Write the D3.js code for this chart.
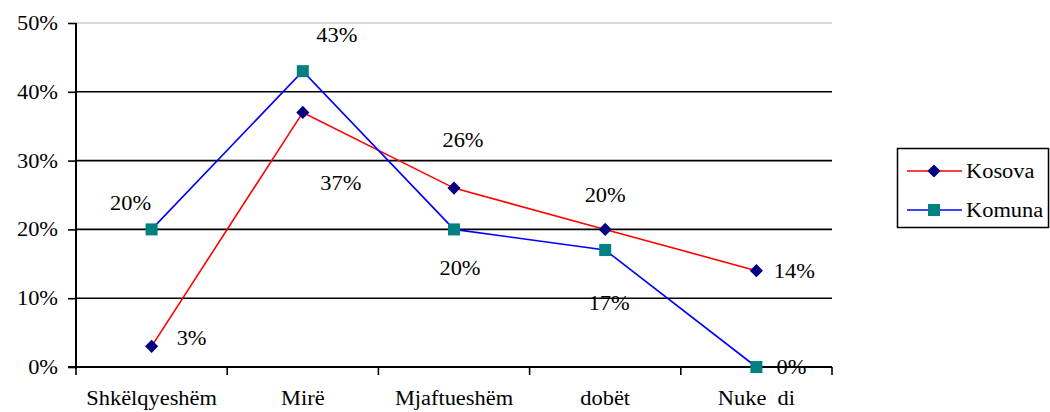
<!DOCTYPE html>
<html><head><meta charset="utf-8">
<script src="https://cdn.jsdelivr.net/npm/d3@7"></script>
</head><body style="margin:0">
<svg id="s" width="1050" height="412" font-family="Liberation Serif" font-size="20" style="display:block"></svg>
<script>
const categories = ["Shkëlqyeshëm", "Mirë", "Mjaftueshëm", "dobët", "Nuke  di"];
const kosova = [0.03, 0.37, 0.26, 0.20, 0.14];
const komuna = [0.20, 0.43, 0.20, 0.17, 0.00];
const yTicks = [0, 0.1, 0.2, 0.3, 0.4, 0.5];
const seriesNames = ["Kosova", "Komuna"];
// label offsets (px) relative to each point
const kosovaLabelOff = [[40,-8],[38,71],[9,-48],[0,-34],[38,0]];
const komunaLabelOff = [[-21,-26],[34,-36],[6,39],[4,53],[35,0]];

const FONT = "Liberation Serif";
const svg = d3.select("#s");
const x0 = 76, x1 = 832, yTop = 23, yBot = 367;
const x = d3.scaleBand().domain(categories).range([x0, x1]).padding(0);
const y = d3.scaleLinear().domain([0, 0.5]).range([yBot, yTop]);
const cx = c => x(c) + x.bandwidth() / 2;
const styleText = s => s.attr("font-family", FONT).attr("font-size", 20).attr("fill", "#000").classed("st", true);

// grid
svg.append("g").selectAll("line").data(yTicks.filter(t => t > 0)).join("line")
  .attr("x1", x0).attr("x2", x1).attr("y1", d => y(d)).attr("y2", d => y(d))
  .attr("stroke", d => d === 0.5 ? "#b0b0b0" : "#000").attr("stroke-width", d => d === 0.5 ? 1 : 1.6);

// y axis
const yAx = svg.append("g").attr("transform", `translate(${x0},0)`)
  .call(d3.axisLeft(y).tickValues(yTicks).tickFormat(d3.format(".0%")).tickSize(8).tickPadding(10));
yAx.attr("font-family", FONT).attr("font-size", 20);
yAx.select(".domain").attr("stroke", "#000").attr("stroke-width", 2).attr("d", `M0,${yTop}V${yBot + 2}`);
yAx.selectAll(".tick line").attr("stroke-width", 1.6);
yAx.selectAll("text").call(styleText);

// x axis
const xAx = svg.append("g").attr("transform", `translate(0,${yBot})`)
  .call(d3.axisBottom(x).tickSize(0).tickPadding(24));
xAx.attr("font-family", FONT).attr("font-size", 20);
xAx.select(".domain").remove();
xAx.selectAll("text").call(styleText).style("white-space", "pre");
svg.append("line").attr("x1", x0 - 8).attr("x2", x1).attr("y1", yBot).attr("y2", yBot)
  .attr("stroke", "#000").attr("stroke-width", 2);
const bounds = [x0].concat(categories.map(c => x(c) + x.bandwidth()));
svg.append("g").selectAll("line").data(bounds).join("line")
  .attr("x1", d => d).attr("x2", d => d).attr("y1", yBot).attr("y2", yBot + 8)
  .attr("stroke", "#000").attr("stroke-width", 1.6);

const line = d3.line().x((d, i) => cx(categories[i])).y(d => y(d));

function drawSeries(vals, color, markerColor, shape, offs) {
  svg.append("path").datum(vals).attr("d", line).attr("fill", "none")
    .attr("stroke", color).attr("stroke-width", 1.6);
  const g = svg.append("g");
  vals.forEach((v, i) => {
    const px = cx(categories[i]), py = y(v);
    if (shape === "diamond") {
      g.append("path").attr("d", d3.symbol(d3.symbolDiamond2, 110)()).attr("transform", `translate(${px},${py})`)
        .attr("fill", markerColor);
    } else {
      g.append("rect").attr("x", px - 6).attr("y", py - 6).attr("width", 12).attr("height", 12)
        .attr("fill", markerColor);
    }
    svg.append("text").attr("x", px + offs[i][0]).attr("y", py + offs[i][1])
      .attr("text-anchor", "middle").attr("dominant-baseline", "central")
      .call(styleText).text(d3.format(".0%")(v));
  });
}
drawSeries(kosova, "#ff0000", "#000080", "diamond", kosovaLabelOff);
drawSeries(komuna, "#0000ff", "#008080", "square", komunaLabelOff);

// legend
const lg = svg.append("g");
lg.append("rect").attr("x", 897.5).attr("y", 148.5).attr("width", 151).attr("height", 79)
  .attr("fill", "none").attr("stroke", "#000").attr("stroke-width", 1.5);
const lcol = [["#ff0000", "#000080", "diamond"], ["#0000ff", "#008080", "square"]];
seriesNames.forEach((n, i) => {
  const ly = 171 + i * 39;
  lg.append("line").attr("x1", 907).attr("x2", 962).attr("y1", ly).attr("y2", ly)
    .attr("stroke", lcol[i][0]).attr("stroke-width", 1.6);
  if (lcol[i][2] === "diamond") {
    lg.append("path").attr("d", d3.symbol(d3.symbolDiamond2, 110)()).attr("transform", `translate(934,${ly})`).attr("fill", lcol[i][1]);
  } else {
    lg.append("rect").attr("x", 928).attr("y", ly - 6).attr("width", 12).attr("height", 12).attr("fill", lcol[i][1]);
  }
  lg.append("text").attr("x", 966).attr("y", ly).attr("dominant-baseline", "central").call(styleText).text(n);
});

// horizontally stretched glyphs like the reference
svg.selectAll("text.st").each(function () {
  const L = this.getComputedTextLength();
  if (L > 0) d3.select(this).attr("textLength", L * 1.12).attr("lengthAdjust", "spacingAndGlyphs");
});
</script></body></html>
